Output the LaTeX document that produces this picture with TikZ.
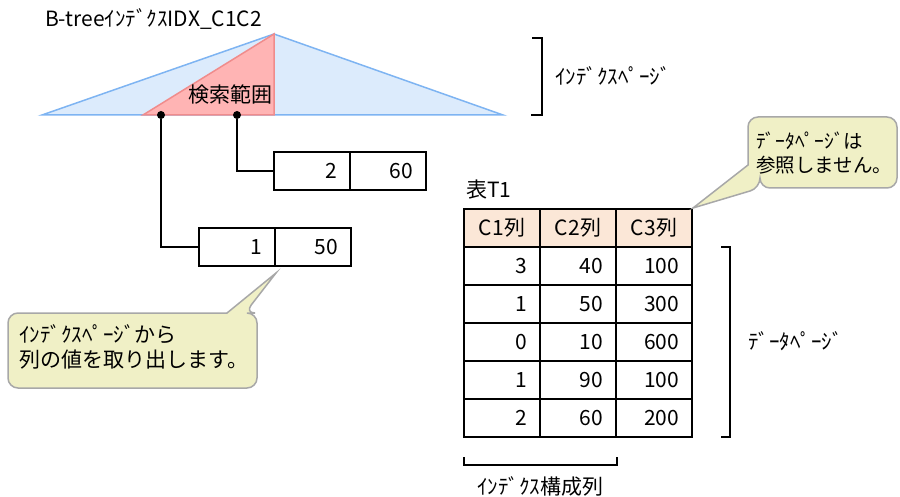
\documentclass[tikz,border=0pt]{standalone}
\usepackage{fontspec}
\setmainfont{Noto Sans CJK JP}
\usepackage{tikz}
\usetikzlibrary{positioning}
\definecolor{treefill}{HTML}{DCEBFC}
\definecolor{treeline}{HTML}{7EB4F2}
\definecolor{rangefill}{HTML}{FFB4B4}
\definecolor{rangeline}{HTML}{F08C8C}
\definecolor{headfill}{HTML}{FBE7D7}
\definecolor{notefill}{HTML}{F0F0C6}
\definecolor{noteline}{HTML}{A8A8A8}

\begin{document}
\begin{tikzpicture}[x=1pt, y=-1pt, font=\fontsize{21}{25}\selectfont,
    cell/.style = {draw, line width=1.5pt, outer sep=0pt, minimum height=38pt,
                   text width=50pt, inner xsep=13pt, align=right},
    head/.style = {cell, fill=headfill, align=center},
    dot/.style = {circle, fill, inner sep=0pt, minimum size=8pt},
    link/.style = {line width=1.5pt},
    label/.style = {anchor=west, inner sep=0pt},
    note/.style = {draw=noteline, fill=notefill, line width=1.5pt}]
    \useasboundingbox (0,0) rectangle (900,497);
    % Index tree
    \coordinate (apex) at (274,34);
    \coordinate (tl) at (42,115);
    \coordinate (tr) at (503,115);
    \coordinate (rl) at (143,115);
    \coordinate (rr) at (274,115);
    \filldraw[fill=treefill, draw=treeline, line width=1.5pt] (tl) -- (apex) -- (tr) -- cycle;
    \filldraw[fill=rangefill, draw=rangeline, line width=1.5pt] (rl) -- (apex) -- (rr) -- cycle;
    \node[label] (title) at (45,19) {B-treeｲﾝﾃﾞｸｽIDX\_C1C2};
    \node (range) at (230,95) {検索範囲};
    \node[dot] (d1) at (161,115) {};
    \node[dot] (d2) at (237,115) {};
    % Index page bracket
    \draw[link] (532,38) -- (542,38) -- (542,115) -- (531,115);
    \node[label] (ipage) at (555,76) {ｲﾝﾃﾞｸｽﾍﾟｰｼﾞ};
    % Key entries
    \node[cell, anchor=north west] (k2a) at (274,152) {2};
    \node[cell] (k2b) [right=0pt of k2a] {60};
    \node[cell, anchor=north west] (k1a) at (199,228) {1};
    \node[cell] (k1b) [right=0pt of k1a] {50};
    \draw[link] (d2) |- (k2a.west);
    \draw[link] (d1) |- (k1a.west);
    % Table T1
    \node[label] (tname) at (466,190) {表T1};
    \node[head, anchor=north west] (h1) at (464,209) {C1列};
    \node[head] (h2) [right=0pt of h1] {C2列};
    \node[head] (h3) [right=0pt of h2] {C3列};
    \node[cell] (r1a) [below=0pt of h1] {3};
    \node[cell] (r1b) [right=0pt of r1a] {40};
    \node[cell] (r1c) [right=0pt of r1b] {100};
    \node[cell] (r2a) [below=0pt of r1a] {1};
    \node[cell] (r2b) [right=0pt of r2a] {50};
    \node[cell] (r2c) [right=0pt of r2b] {300};
    \node[cell] (r3a) [below=0pt of r2a] {0};
    \node[cell] (r3b) [right=0pt of r3a] {10};
    \node[cell] (r3c) [right=0pt of r3b] {600};
    \node[cell] (r4a) [below=0pt of r3a] {1};
    \node[cell] (r4b) [right=0pt of r4a] {90};
    \node[cell] (r4c) [right=0pt of r4b] {100};
    \node[cell] (r5a) [below=0pt of r4a] {2};
    \node[cell] (r5b) [right=0pt of r5a] {60};
    \node[cell] (r5c) [right=0pt of r5b] {200};
    % Brackets
    \draw[link] (721,247) -- (730,247) -- (730,437) -- (721,437);
    \node[label] (dpage) at (748,341) {ﾃﾞｰﾀﾍﾟｰｼﾞ};
    \draw[link] (464,457) -- (464,465) -- (617,465) -- (617,457);
    \node[label] (keycols) at (477,486) {ｲﾝﾃﾞｸｽ構成列};
    % Callouts
    \draw[note] (245,313) [sharp corners] -- (276,273) -- (227,313)
        [rounded corners=10pt] -| (8,388) -| (257,313) -- cycle;
    \node[label, align=left, font=\fontsize{21}{25}\selectfont] (note1) at (19,347)
        {ｲﾝﾃﾞｸｽﾍﾟｰｼﾞから\\列の値を取り出します。};
    \draw[note] (760,188) [sharp corners] -- (693,208) -- (748,165)
        [rounded corners=10pt] |- (897,117) |- (760,188) -- cycle;
    \node[label, align=left, font=\fontsize{19.5}{24}\selectfont] (note2) at (756,153)
        {ﾃﾞｰﾀﾍﾟｰｼﾞは\\参照しません。};
\end{tikzpicture}
\end{document}
